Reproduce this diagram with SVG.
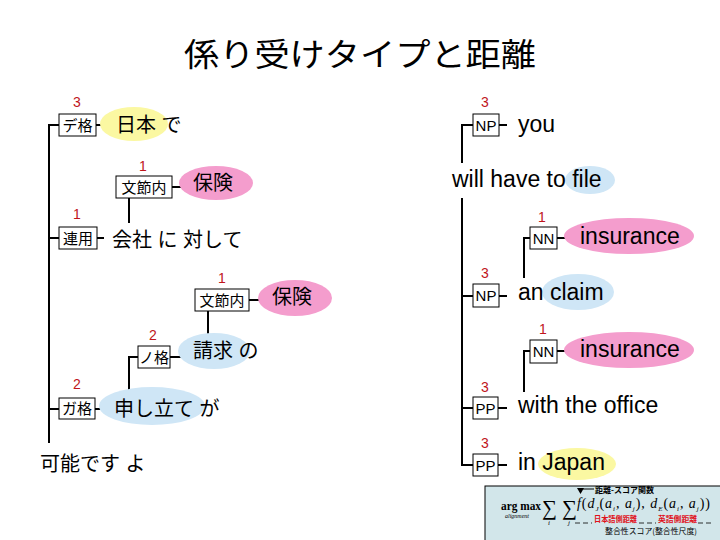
<svg xmlns="http://www.w3.org/2000/svg" width="720" height="540" viewBox="0 0 720 540">
<style>
.jp{font-family:"Liberation Sans","Noto Sans CJK JP",sans-serif;font-size:20px;fill:#000}
.en{font-family:"Liberation Sans","Noto Sans CJK JP",sans-serif;font-size:23px;fill:#000}
.num{font-family:"Liberation Sans",sans-serif;font-size:14px;fill:#c0151b;text-anchor:middle}
.lbl{font-family:"Liberation Sans","Noto Sans CJK JP",sans-serif;font-size:15px;fill:#000;text-anchor:middle}
.box{fill:#fff;stroke:#000;stroke-width:1}
.yel{fill:#fbf8a2}
.pink{fill:#f49dcd}
.blue{fill:#cfe6f6}
.ln{stroke:#000;stroke-width:2;fill:none}
.title{font-family:"Noto Sans CJK JP",sans-serif;font-size:32px;fill:#000}
.sm{font-family:"Noto Sans CJK JP",sans-serif;fill:#000}
.red{fill:#e0101a}
.ser{font-family:"Liberation Serif",serif;fill:#000}
</style>
<rect width="720" height="540" fill="#fff"/>
<text class="title" x="184" y="66" textLength="352" lengthAdjust="spacingAndGlyphs">係り受けタイプと距離</text>

<g id="connectors">
<path class="ln" d="M59,125 H49 V443 M49,238 H59 M49,409 H59 M96,125 H101 M172,187 H184 M129,198 V223 M97,238 H104 M249,300 H262 M208,311 V336 M138,357 H129 V392 M170,357 H183 M95,409 H105"/>
<path class="ln" d="M473,125 H462 V163 M462,198 V465 H473 M462,296 H473 M462,408 H473 M499,125 H507 M499,296 H507 M498,408 H507 M498,465 H507 M530,238 H524 V278 M557,238 H570 M530,351 H524 V392 M557,351 H570"/>
</g>

<g id="n-de"><text class="num" x="77" y="107">3</text><rect class="box" x="59" y="114" width="37" height="22"/><text class="lbl" x="77.5" y="131">デ格</text></g>
<g id="w-nihon"><ellipse class="yel" cx="134" cy="124" rx="34" ry="17"/><text class="jp" x="116" y="132">日本 で</text></g>
<g id="n-bunsetsu1"><text class="num" x="143" y="171">1</text><rect class="box" x="116" y="176" width="56" height="22"/><text class="lbl" x="144" y="193">文節内</text></g>
<g id="w-hoken1"><ellipse class="pink" cx="216" cy="183" rx="37" ry="17"/><text class="jp" x="193" y="190">保険</text></g>
<g id="n-renyo"><text class="num" x="77" y="219">1</text><rect class="box" x="59" y="227" width="38" height="22"/><text class="lbl" x="78" y="244">連用</text></g>
<g id="w-kaisha"><text class="jp" x="112" y="247">会社 に 対して</text></g>
<g id="n-bunsetsu2"><text class="num" x="222" y="283">1</text><rect class="box" x="195" y="289" width="54" height="22"/><text class="lbl" x="222" y="306">文節内</text></g>
<g id="w-hoken2"><ellipse class="pink" cx="295" cy="298" rx="37" ry="18"/><text class="jp" x="272" y="304">保険</text></g>
<g id="n-no"><text class="num" x="153" y="340">2</text><rect class="box" x="138" y="346" width="32" height="22"/><text class="lbl" x="154" y="363">ノ格</text></g>
<g id="w-seikyu"><ellipse class="blue" cx="214" cy="351" rx="36" ry="18"/><text class="jp" x="193" y="358">請求 の</text></g>
<g id="n-ga"><text class="num" x="77" y="389">2</text><rect class="box" x="59" y="398" width="36" height="21"/><text class="lbl" x="77" y="414">ガ格</text></g>
<g id="w-moushitate"><ellipse class="blue" cx="152" cy="406" rx="53" ry="19"/><text class="jp" x="114" y="416">申し立て が</text></g>
<g id="w-kanou"><text class="jp" x="40" y="471">可能です よ</text></g>

<g id="n-np1"><text class="num" x="485" y="107">3</text><rect class="box" x="473" y="114" width="26" height="22"/><text class="lbl" x="486" y="130.5">NP</text></g>
<g id="w-you"><text class="en" x="518" y="132">you</text></g>
<g id="w-file"><ellipse class="blue" cx="590" cy="180" rx="25" ry="14"/><text class="en" x="452" y="187">will have to file</text></g>
<g id="n-nn1"><text class="num" x="542" y="222">1</text><rect class="box" x="530" y="227" width="27" height="22"/><text class="lbl" x="543.5" y="243.5">NN</text></g>
<g id="w-ins1"><ellipse class="pink" cx="629" cy="236" rx="65" ry="18"/><text class="en" x="580" y="244">insurance</text></g>
<g id="n-np2"><text class="num" x="485" y="278">3</text><rect class="box" x="473" y="284" width="26" height="23"/><text class="lbl" x="486" y="301">NP</text></g>
<g id="w-claim"><ellipse class="blue" cx="578" cy="292" rx="36" ry="18"/><text class="en" x="518" y="300">an claim</text></g>
<g id="n-nn2"><text class="num" x="543" y="334">1</text><rect class="box" x="530" y="340" width="27" height="23"/><text class="lbl" x="543.5" y="357">NN</text></g>
<g id="w-ins2"><ellipse class="pink" cx="629" cy="350" rx="65" ry="18"/><text class="en" x="580" y="357">insurance</text></g>
<g id="n-pp1"><text class="num" x="485" y="392">3</text><rect class="box" x="473" y="397" width="25" height="22"/><text class="lbl" x="485.5" y="413.5">PP</text></g>
<g id="w-office"><text class="en" x="518" y="413">with the office</text></g>
<g id="n-pp2"><text class="num" x="485" y="448">3</text><rect class="box" x="473" y="454" width="25" height="22"/><text class="lbl" x="485.5" y="470.5">PP</text></g>
<g id="w-japan"><ellipse class="yel" cx="577" cy="464" rx="39" ry="16"/><text class="en" x="518" y="470">in Japan</text></g>

<g id="formula">
<rect x="485" y="486" width="240" height="60" fill="#d2e6ea" stroke="#000" stroke-width="1"/>
<polygon points="577,488 584,488 580.5,494" fill="#000"/>
<line x1="583" y1="489" x2="594" y2="489" stroke="#000" stroke-width="1"/>
<text class="sm" x="595" y="493" font-size="8" font-weight="bold">距離-スコア関数</text>
<text class="ser" x="501" y="510" font-size="12" font-weight="bold" textLength="40" lengthAdjust="spacingAndGlyphs">arg max</text>
<text class="ser" x="505" y="518" font-size="6" font-style="italic">alignment</text>
<text class="ser" x="542" y="515" font-size="21">∑</text>
<text class="ser" x="562" y="515" font-size="21">∑</text>
<text class="ser" x="548" y="525" font-size="7" font-style="italic">i</text>
<text class="ser" x="568" y="525" font-size="7" font-style="italic">j</text>
<text class="ser" x="577" y="508" font-size="14" font-style="italic" textLength="133" lengthAdjust="spacing">f<tspan font-style="normal">(</tspan>d<tspan font-size="7" dy="2.5">J</tspan><tspan dy="-2.5" font-style="normal">(</tspan>a<tspan font-size="7" dy="2.5">i</tspan><tspan dy="-2.5" font-style="normal">, </tspan>a<tspan font-size="7" dy="2.5">j</tspan><tspan dy="-2.5" font-style="normal">), </tspan>d<tspan font-size="7" dy="2.5">E</tspan><tspan dy="-2.5" font-style="normal">(</tspan>a<tspan font-size="7" dy="2.5">i</tspan><tspan dy="-2.5" font-style="normal">, </tspan>a<tspan font-size="7" dy="2.5">j</tspan><tspan dy="-2.5" font-style="normal">))</tspan></text>
<text class="sm red" x="594" y="522" font-size="7.5" font-weight="bold" textLength="43" lengthAdjust="spacingAndGlyphs">日本語側距離</text>
<text class="sm red" x="658" y="522" font-size="7.5" font-weight="bold" textLength="39" lengthAdjust="spacingAndGlyphs">英語側距離</text>
<path d="M575,523 H592 M639,523 H656 M698,523 H712" stroke="#000" stroke-width="0.8" stroke-dasharray="5,3"/>
<text class="sm" x="605" y="534" font-size="8" textLength="92" lengthAdjust="spacingAndGlyphs">整合性スコア(整合性尺度)</text>
</g>
</svg>
